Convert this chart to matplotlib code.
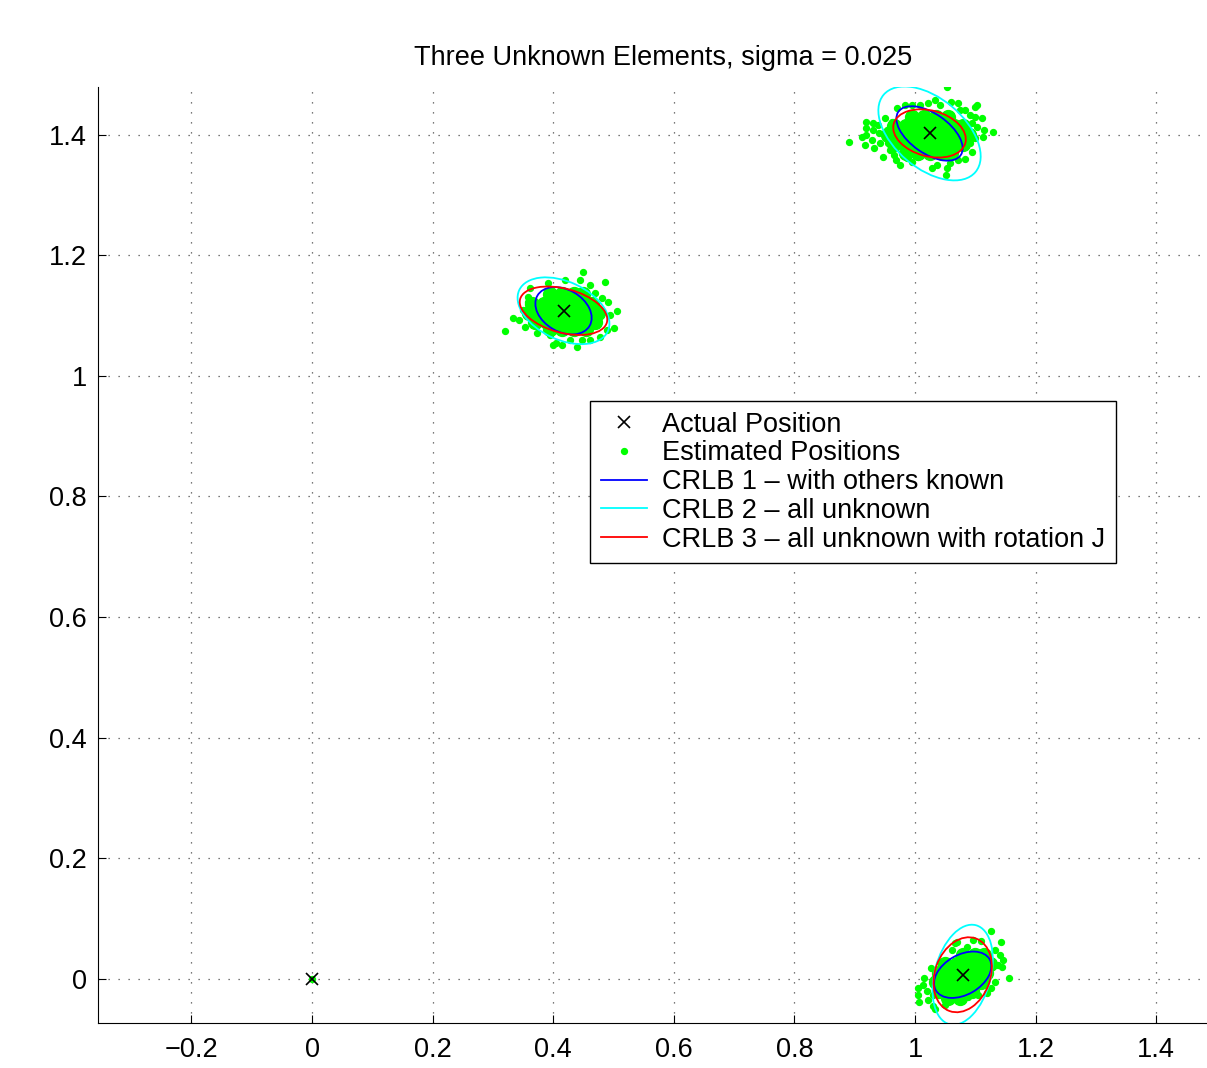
import matplotlib.pyplot as plt
from matplotlib.patches import Ellipse

plt.rcParams['font.family'] = ['Liberation Sans', 'DejaVu Sans']

# actual node positions (x marks)
actual_x = [0.0, 1.024, 0.417, 1.079]
actual_y = [0.0, 1.402, 1.108, 0.007]

# estimated positions (scattered outer points)
est_x = [0.0,
         0.8905, 0.9116, 0.9187, 0.9187, 0.9187, 0.9171, 0.9299, 0.9308, 0.9282, 0.9325,
         0.9391, 0.9408, 0.9420, 0.9464, 0.9502, 0.9531, 0.9557, 0.9585, 0.9614, 0.9652,
         0.9685, 0.9751, 0.9697, 0.9834, 0.9945, 0.9862, 0.9945, 1.0055, 1.0083, 1.0526,
         1.0597, 1.0718, 1.0746, 1.0829, 1.1023, 1.0995, 1.0912, 1.0995, 1.1106, 1.0940,
         1.1023, 1.1149, 1.1299, 1.1133, 1.0995, 1.0912, 1.0940, 1.0829, 1.0718, 1.0580,
         1.0526, 1.0509, 1.0360, 1.0277, 1.0221, 1.0332, 1.0415,
         0.3201, 0.3328, 0.3438, 0.3532, 0.3504, 0.3587, 0.3615, 0.3587, 0.3726, 0.3947,
         0.4002, 0.4499, 0.4444, 0.4610, 0.4859, 0.4693, 0.4804, 0.4914, 0.5053, 0.4942,
         0.5008, 0.4887, 0.4776, 0.4610, 0.4473, 0.4390, 0.4279, 0.4141, 0.4046, 0.3914,
         0.4196,
         1.0071, 1.0055, 1.0055, 1.0138, 1.0149, 1.0204, 1.0221, 1.0303, 1.0332, 1.0260,
         1.0303, 1.0609, 1.0663, 1.0498, 1.1260, 1.1095, 1.1426, 1.1327, 1.1410, 1.1464,
         1.1382, 1.1438, 1.1559, 1.1327, 1.1260, 1.1189, 1.1050, 1.0884, 1.0718, 1.0692,
         1.0857, 1.0967]
est_y = [0.0,
         1.3886, 1.3959, 1.4217, 1.4108, 1.3997, 1.3831, 1.4191, 1.4080, 1.3914, 1.3776,
         1.4163, 1.4025, 1.3859, 1.3637, 1.4274, 1.4080, 1.3859, 1.3748, 1.4217, 1.3665,
         1.3582, 1.3499, 1.4439, 1.4494, 1.4494, 1.3610, 1.3554, 1.3637, 1.4494, 1.4788,
         1.4549, 1.4532, 1.4411, 1.4411, 1.4494, 1.4456, 1.4328, 1.4300, 1.4274, 1.4191,
         1.4134, 1.4080, 1.4042, 1.3969, 1.3942, 1.3859, 1.3720, 1.3594, 1.3582, 1.3527,
         1.3444, 1.3333, 1.3499, 1.3444, 1.4522, 1.4577, 1.4494,
         1.0751, 1.0967, 1.0929, 1.0818, 1.1095, 1.1232, 1.1454, 1.1315, 1.0708, 1.0680,
         1.0514, 1.1720, 1.1592, 1.1509, 1.1554, 1.1371, 1.1289, 1.1232, 1.1083, 1.1012,
         1.0801, 1.0763, 1.0652, 1.0597, 1.0597, 1.0486, 1.0597, 1.0514, 1.0542, 1.1542,
         1.1592,
         -0.0386, -0.0265, -0.0144, -0.0100, 0.0022, -0.0199, -0.0348, -0.0443, -0.0498, 0.0177,
         -0.0265, 0.0481, 0.0592, -0.0431, 0.0801, 0.0630, 0.0609, 0.0481, 0.0398, 0.0315,
         0.0232, 0.0204, 0.0022, -0.0045, -0.0154, -0.0237, -0.0265, -0.0294, -0.0348, 0.0619,
         0.0536, 0.0647]

# dense cores of the clouds (solid green in the picture)
core_x = [0.995, 1.015, 1.035, 1.055,
          0.965, 0.985, 1.005, 1.025, 1.045, 1.065, 1.080,
          0.955, 0.975, 0.995, 1.015, 1.035, 1.055, 1.075, 1.090,
          0.965, 0.985, 1.005, 1.025, 1.045, 1.065, 1.080,
          0.985, 1.005, 1.025, 1.045, 1.060,
          0.395, 0.415, 0.435, 0.450,
          0.365, 0.385, 0.405, 0.425, 0.445, 0.465,
          0.360, 0.380, 0.400, 0.420, 0.440, 0.460, 0.475,
          0.370, 0.390, 0.410, 0.430, 0.450, 0.470,
          0.395, 0.415, 0.435, 0.455,
          1.080, 1.100, 1.115,
          1.050, 1.070, 1.090, 1.110, 1.125,
          1.040, 1.060, 1.080, 1.100, 1.118,
          1.035, 1.055, 1.075, 1.095, 1.110,
          1.040, 1.060, 1.080, 1.095,
          1.055, 1.075]
core_y = [1.430] * 4 + [1.415] * 7 + [1.400] * 8 + [1.385] * 7 + [1.370] * 5 + \
         [1.135] * 4 + [1.120] * 6 + [1.105] * 7 + [1.090] * 6 + [1.077] * 4 + \
         [0.040] * 3 + [0.025] * 5 + [0.010] * 5 + [-0.005] * 5 + [-0.020] * 4 + [-0.032] * 2

# CRLB ellipses: (center x, center y, width, height, angle)
crlb1 = [(1.024, 1.402, 0.126, 0.066, -35), (0.417, 1.108, 0.100, 0.070, -30),
         (1.079, 0.007, 0.103, 0.066, 30)]
crlb2 = [(1.024, 1.402, 0.199, 0.116, -40), (0.417, 1.108, 0.162, 0.096, -25),
         (1.079, 0.007, 0.170, 0.093, 75)]
crlb3 = [(1.024, 1.402, 0.123, 0.076, -15), (0.417, 1.108, 0.149, 0.073, -15),
         (1.079, 0.007, 0.128, 0.092, 70)]

xticks = [-0.2, 0, 0.2, 0.4, 0.6, 0.8, 1, 1.2, 1.4]
xtick_labels = ['\u22120.2', '0', '0.2', '0.4', '0.6', '0.8', '1', '1.2', '1.4']
yticks = [0, 0.2, 0.4, 0.6, 0.8, 1, 1.2, 1.4]
ytick_labels = ['0', '0.2', '0.4', '0.6', '0.8', '1', '1.2', '1.4']

FS = 19.5

fig = plt.figure(figsize=(12.07, 10.68), dpi=100)
ax = fig.add_axes([98 / 1207, 45 / 1068, 1130 / 1207, 936 / 1068])

ax.plot(core_x, core_y, '.', color=(0, 1, 0), ms=20, zorder=2)
ax.plot(est_x, est_y, '.', color=(0, 1, 0), ms=8.5, zorder=2, label='Estimated Positions')
ax.plot(actual_x, actual_y, 'x', color='k', ms=8, mew=1.2, zorder=5, label='Actual Position')

for group, col, lab in [(crlb1, (0, 0, 1), 'CRLB 1 \u2013 with others known'),
                        (crlb2, (0, 1, 1), 'CRLB 2 \u2013 all unknown'),
                        (crlb3, (1, 0, 0), 'CRLB 3 \u2013 all unknown with rotation J')]:
    for cx, cy, w, h, ang in group:
        ax.add_patch(Ellipse((cx, cy), w, h, angle=ang, fill=False, color=col,
                             lw=1.3, zorder=4))
    ax.plot([], [], '-', color=col, lw=1.3, label=lab)

ax.set_xlim(-0.355, 1.519)
ax.set_ylim(-0.073, 1.479)
ax.set_xticks(xticks)
ax.set_xticklabels(xtick_labels)
ax.set_yticks(yticks)
ax.set_yticklabels(ytick_labels)
ax.tick_params(direction='in', length=6, labelsize=FS)
ax.tick_params(axis='x', pad=10)
ax.tick_params(axis='y', pad=8)
ax.spines['top'].set_visible(False)
ax.spines['right'].set_visible(False)
ax.grid(True, color='0.3', linestyle=(0, (1, 7)), linewidth=0.9)
ax.set_axisbelow(True)
ax.set_title('Three Unknown Elements, sigma = 0.025', fontsize=FS, pad=16)

handles, labels = ax.get_legend_handles_labels()
order = [1, 0, 2, 3, 4]
leg = ax.legend([handles[i] for i in order], [labels[i] for i in order],
                loc='upper left', bbox_to_anchor=(0.461, 0.9585),
                bbox_transform=ax.transData, fontsize=FS, fancybox=False,
                framealpha=1, edgecolor='k', handlelength=1.7, handletextpad=0.55,
                labelspacing=0.1, borderpad=0.4, borderaxespad=0)
leg.get_frame().set_linewidth(1.0)

plt.savefig('out.png', dpi=100)
